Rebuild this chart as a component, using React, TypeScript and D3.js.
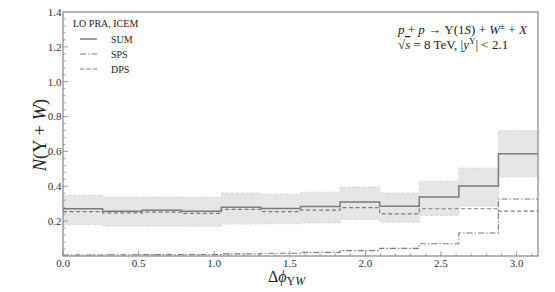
import React from "react";
import * as d3 from "d3";

// bin edges: 12 bins of pi/12 over [0, pi]
const nBins = 12;
const binEdges = d3.range(nBins + 1).map((i) => (i * Math.PI) / nBins);

const sumValues = [0.271, 0.257, 0.262, 0.257, 0.28, 0.272, 0.284, 0.31, 0.286, 0.339, 0.402, 0.587];
const sumUpper = [0.349, 0.337, 0.338, 0.336, 0.362, 0.355, 0.366, 0.396, 0.362, 0.429, 0.505, 0.718];
const sumLower = [0.18, 0.172, 0.172, 0.171, 0.183, 0.185, 0.19, 0.21, 0.194, 0.233, 0.286, 0.454];
const spsValues = [0.006, 0.007, 0.008, 0.009, 0.012, 0.016, 0.021, 0.031, 0.044, 0.07, 0.132, 0.327];
const dpsValues = [0.255, 0.248, 0.252, 0.245, 0.267, 0.255, 0.263, 0.278, 0.242, 0.271, 0.271, 0.257];

const xTickLabels = [0, 0.5, 1.0, 1.5, 2.0, 2.5, 3.0];
const yTickLabels = [0.2, 0.4, 0.6, 0.8, 1.0, 1.2, 1.4];

const legendItems = [
  { label: "SUM", dash: "none" },
  { label: "SPS", dash: "6,2,1.5,2" },
  { label: "DPS", dash: "4,2.5" },
];

const W = 555;
const H = 292;
const margin = { left: 63, right: 17, top: 12, bottom: 36 };
const serif = "'Liberation Serif', 'DejaVu Serif', serif";
const lineColor = "#7b7b7b";
const frameColor = "#858585";

const App: React.FC = () => {
  const x = d3.scaleLinear().domain([0, Math.PI]).range([margin.left, W - margin.right]);
  const y = d3.scaleLinear().domain([0, 1.4]).range([H - margin.bottom, margin.top]);

  const stepPath = (vals: number[]) =>
    d3
      .line<number>()
      .x((_, i) => x(binEdges[i]))
      .y((v) => y(v))
      .curve(d3.curveStepAfter)([...vals, vals[vals.length - 1]]) || "";

  const band = d3
    .area<number>()
    .x((_, i) => x(binEdges[i]))
    .y0((_, i) => y(sumLower[Math.min(i, nBins - 1)]))
    .y1((_, i) => y(sumUpper[Math.min(i, nBins - 1)]))
    .curve(d3.curveStepAfter)(binEdges) || "";

  const xMinor = d3.range(0, 3.15, 0.1);
  const yMinor = d3.range(0.04, 1.4, 0.04);
  const x0 = x(0);
  const y0 = y(0);
  const txt = { fontFamily: serif };

  return (
    <svg width={W} height={H} style={{ position: "absolute", left: 0, top: 0, background: "#fff", fontFamily: serif }}>
      <path d={band} fill="#e6e6e6" stroke="none" />
      <path d={stepPath(sumUpper)} fill="none" stroke="#d2d2d2" strokeWidth={0.8} strokeDasharray="3,2" />
      <path d={stepPath(sumLower)} fill="none" stroke="#d2d2d2" strokeWidth={0.8} strokeDasharray="3,2" />

      <path d={stepPath(spsValues)} fill="none" stroke={lineColor} strokeWidth={1.1} strokeDasharray="6,2,1.5,2" />
      <path d={stepPath(dpsValues)} fill="none" stroke={lineColor} strokeWidth={1.2} strokeDasharray="4,2.5" />
      <path d={stepPath(sumValues)} fill="none" stroke={lineColor} strokeWidth={1.5} />

      {/* ticks */}
      {xMinor.map((v, i) => (
        <line key={"xm" + i} x1={x(v)} x2={x(v)} y1={y0} y2={y0 - (Math.abs(v * 2 - Math.round(v * 2)) < 1e-6 ? 5 : 2.5)} stroke={frameColor} strokeWidth={0.8} />
      ))}
      {yMinor.map((v, i) => (
        <line key={"ym" + i} x1={x0} x2={x0 + (Math.abs(v * 5 - Math.round(v * 5)) < 1e-6 ? 5 : 2.5)} y1={y(v)} y2={y(v)} stroke={frameColor} strokeWidth={0.8} />
      ))}
      <rect x={x0} y={margin.top} width={W - margin.right - x0} height={y0 - margin.top} fill="none" stroke={frameColor} strokeWidth={1.2} />

      {xTickLabels.map((v) => (
        <text key={"xt" + v} style={txt} x={x(v)} y={y0 + 11} fontSize={11} textAnchor="middle" fill="#333">
          {v.toFixed(1)}
        </text>
      ))}
      {yTickLabels.map((v) => (
        <text key={"yt" + v} style={txt} x={x0 - 1.5} y={y(v) + 3.8} fontSize={11} textAnchor="end" fill="#333">
          {v.toFixed(1)}
        </text>
      ))}

      {/* axis titles */}
      <text style={txt} x={268} y={282} fontSize={16} fill="#222">
        Δ<tspan fontStyle="italic">ϕ</tspan>
        <tspan fontSize={12} dy={3}>Υ<tspan fontStyle="italic">W</tspan></tspan>
      </text>
      <text style={txt} transform="translate(46,135) rotate(-90)" fontSize={18.5} textAnchor="middle" fill="#222">
        <tspan fontStyle="italic">N</tspan>(Υ + <tspan fontStyle="italic">W</tspan>)
      </text>

      {/* legend */}
      <text style={txt} x={73} y={27} fontSize={10} fill="#222">LO PRA, ICEM</text>
      {legendItems.map((d, i) => (
        <g key={d.label} transform={`translate(0,${39 + i * 15})`}>
          <line x1={80} x2={97} y1={0} y2={0} stroke={lineColor} strokeWidth={d.label === "SUM" ? 1.5 : 1.1} strokeDasharray={d.dash} />
          <text style={txt} x={111} y={3.5} fontSize={10} fill="#222">{d.label}</text>
        </g>
      ))}

      {/* process annotation */}
      <text style={txt} x={398} y={34} fontSize={13} fill="#222">
        <tspan fontStyle="italic">p</tspan> + <tspan fontStyle="italic">p</tspan> → Υ(1<tspan fontStyle="italic">S</tspan>) + <tspan fontStyle="italic">W</tspan>
        <tspan fontSize={9} dy={-5}>±</tspan>
        <tspan dy={5}> + </tspan><tspan fontStyle="italic">X</tspan>
      </text>
      <text style={txt} x={398} y={49} fontSize={13} fill="#222">
        √<tspan fontStyle="italic" textDecoration="overline">s</tspan> = 8 TeV, |<tspan fontStyle="italic">y</tspan>
        <tspan fontSize={9} dy={-5}>Υ</tspan>
        <tspan dy={5}>| &lt; 2.1</tspan>
      </text>
    </svg>
  );
};

export default App;
